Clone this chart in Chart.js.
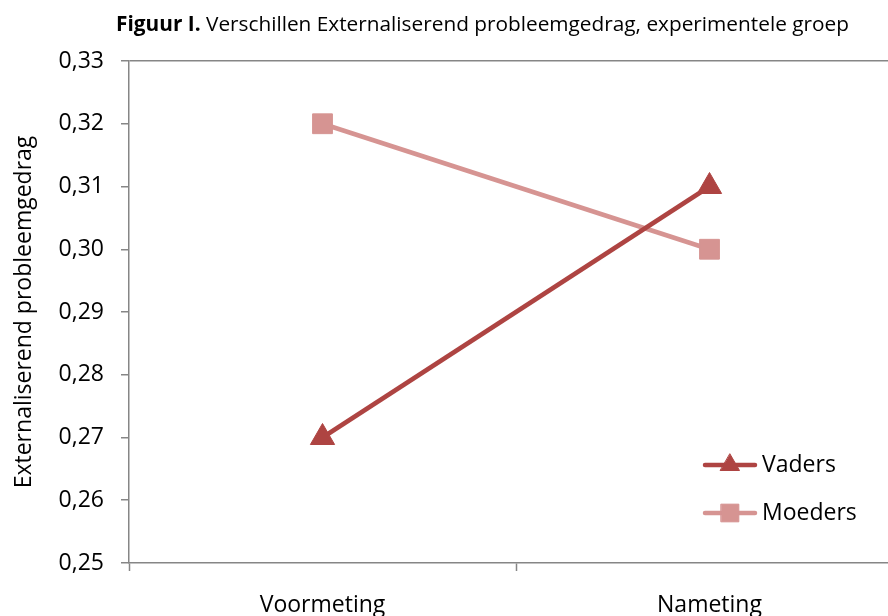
<!DOCTYPE html>
<html>
<head>
<meta charset="utf-8">
<script src="https://cdn.jsdelivr.net/npm/chart.js@4.4.1/dist/chart.umd.min.js"></script>
<style>
  html, body { margin: 0; padding: 0; background: #fff; overflow: hidden; width: 888px; height: 616px; }
  #wrap { position: absolute; left: 0; top: 0; width: 920px; height: 616px; }
</style>
</head>
<body>
<div id="wrap"><canvas id="c" width="920" height="616"></canvas></div>
<script>
const categories = ['Voormeting', 'Nameting'];
const vaders = [0.27, 0.31];
const moeders = [0.32, 0.30];
const seriesNames = ['Vaders', 'Moeders'];
const titleBold = 'Figuur I.';
const titleRest = ' Verschillen Externaliserend probleemgedrag, experimentele groep';
const yAxisTitle = 'Externaliserend probleemgedrag';
const yMin = 0.25, yMax = 0.33, yStep = 0.01;

const FONT = '"Open Sans", "Noto Sans", sans-serif';
const AXIS = '#868686';

const titlePlugin = {
  id: 'mixedTitle',
  afterDraw(chart) {
    const ctx = chart.ctx;
    ctx.save();
    ctx.fillStyle = '#000';
    ctx.textBaseline = 'alphabetic';
    const bFont = 'bold 20.8px ' + FONT;
    const nFont = '20.8px ' + FONT;
    ctx.font = bFont; const w1 = ctx.measureText(titleBold).width;
    ctx.font = nFont; const w2 = ctx.measureText(titleRest).width;
    const x0 = 482.5 - (w1 + w2) / 2;
    ctx.font = bFont; ctx.fillText(titleBold, x0, 31);
    ctx.font = nFont; ctx.fillText(titleRest, x0 + w1, 31);
    // y axis title
    ctx.translate(24, (chart.chartArea.top + chart.chartArea.bottom) / 2);
    ctx.rotate(-Math.PI / 2);
    ctx.font = '23px ' + FONT;
    ctx.textAlign = 'center';
    ctx.textBaseline = 'middle';
    ctx.fillText(yAxisTitle, 0, 0);
    ctx.restore();
  }
};

const legendPlugin = {
  id: 'insideLegend',
  afterDraw(chart) {
    const ctx = chart.ctx;
    chart.data.datasets.forEach((ds, i) => {
      const y = 465 + i * 48;
      ctx.save();
      ctx.strokeStyle = ds.borderColor;
      ctx.lineWidth = ds.borderWidth;
      ctx.lineCap = 'round';
      ctx.beginPath(); ctx.moveTo(705, y); ctx.lineTo(755, y); ctx.stroke();
      ctx.fillStyle = ds.pointBackgroundColor;
      ctx.strokeStyle = ds.pointBorderColor;
      ctx.lineWidth = 1;
      const r = ds.pointStyle === 'triangle' ? 11 : 12.5;
      Chart.helpers.drawPoint(ctx, { pointStyle: ds.pointStyle, radius: r, borderWidth: 1, rotation: 0 }, 730, y);
      ctx.fillStyle = '#000';
      ctx.font = '23px ' + FONT;
      ctx.textBaseline = 'middle';
      ctx.fillText(ds.label, 762, y);
      ctx.restore();
    });
  }
};

new Chart(document.getElementById('c'), {
  type: 'line',
  data: {
    labels: categories,
    datasets: [
      {
        label: seriesNames[0], data: vaders,
        borderColor: '#AE4442', backgroundColor: '#AE4442', borderWidth: 4.5,
        pointStyle: 'triangle', pointRadius: 14, pointBackgroundColor: '#AE4442', pointBorderColor: '#AE4442', pointBorderWidth: 1,
        tension: 0, fill: false
      },
      {
        label: seriesNames[1], data: moeders,
        borderColor: '#D69492', backgroundColor: '#D69492', borderWidth: 4.5,
        pointStyle: 'rect', pointRadius: 14, pointBackgroundColor: '#D69492', pointBorderColor: '#D69492', pointBorderWidth: 1,
        tension: 0, fill: false
      }
    ]
  },
  options: {
    responsive: false,
    animation: false,
    devicePixelRatio: 1,
    layout: { padding: { top: 61, right: 17, left: 0, bottom: 0 } },
    plugins: { legend: { display: false }, title: { display: false }, tooltip: { enabled: false } },
    scales: {
      x: {
        type: 'category',
        offset: true,
        grid: { offset: true, drawOnChartArea: false, drawTicks: true, tickLength: 8, tickColor: AXIS, tickWidth: 1.5 },
        border: { color: AXIS, width: 1.5 },
        ticks: { color: '#000', font: { family: FONT, size: 23 }, padding: 21, maxRotation: 0 },
        afterFit(s) { s.height = 53; }
      },
      y: {
        min: yMin, max: yMax,
        grid: {
          drawOnChartArea: true, drawTicks: true, tickLength: 8, tickColor: AXIS, tickWidth: 1.5,
          lineWidth: 1.5,
          color: (c) => (c.tick && Math.abs(c.tick.value - yMax) < 1e-9) ? AXIS : 'rgba(0,0,0,0)'
        },
        border: { color: AXIS, width: 1.5 },
        ticks: {
          stepSize: yStep, color: '#000', font: { family: FONT, size: 23 }, padding: 17,
          callback: (v) => Number(v).toFixed(2).replace('.', ',')
        },
        afterFit(s) { s.width = 129; }
      }
    }
  },
  plugins: [titlePlugin, legendPlugin]
});
</script>
</body>
</html>
